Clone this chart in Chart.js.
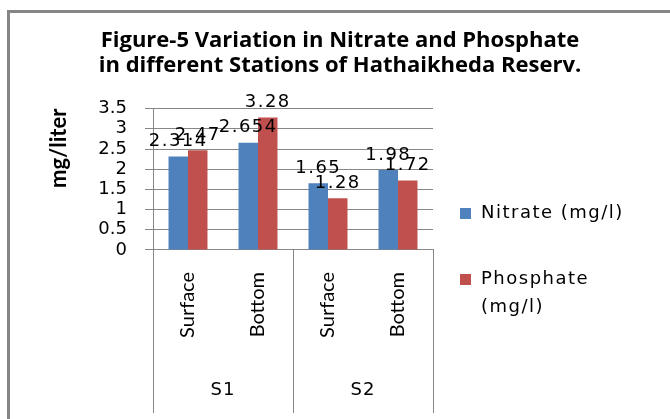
<!DOCTYPE html>
<html>
<head>
<meta charset="utf-8">
<title>Nitrate and Phosphate</title>
<script src="https://cdn.jsdelivr.net/npm/chart.js@4.4.1/dist/chart.umd.min.js"></script>
<style>
  html, body { margin: 0; padding: 0; background: #fff; }
  #wrap { width: 670px; height: 419px; }
</style>
</head>
<body>
<div id="wrap"><canvas id="chart" width="670" height="419"></canvas></div>
<script>
// chart data
const stations = ["S1", "S2"];
const depths = ["Surface", "Bottom", "Surface", "Bottom"];
const nitrate = [2.314, 2.654, 1.65, 1.98];
const phosphate = [2.47, 3.28, 1.28, 1.72];
const yTicks = [0, 0.5, 1, 1.5, 2, 2.5, 3, 3.5];
const seriesNames = ["Nitrate (mg/l)", "Phosphate (mg/l)"];
const titleLines = [
  "Figure-5 Variation in Nitrate and Phosphate",
  "in different Stations of Hathaikheda Reserv.",
];

const gridColor = "#868686";
const numberFont = "'DejaVu Sans', Verdana, sans-serif";
const textFont = "Lato, 'Open Sans', sans-serif";
const titleFont = "'Open Sans', Lato, sans-serif";

// grey frame round the chart
const frame = {
  id: "frame",
  beforeDraw(chart) {
    const ctx = chart.ctx;
    ctx.save();
    ctx.fillStyle = gridColor;
    ctx.fillRect(7, 10, 3, chart.height - 10);
    ctx.fillRect(7, 10, chart.width - 7, 3);
    ctx.restore();
  },
};

// value labels above the bars
const valueLabels = {
  id: "valueLabels",
  afterDatasetsDraw(chart) {
    const ctx = chart.ctx;
    ctx.save();
    ctx.font = "18px " + numberFont;
    ctx.letterSpacing = "1.5px";
    ctx.fillStyle = "#000";
    ctx.textAlign = "center";
    ctx.textBaseline = "bottom";
    chart.data.datasets.forEach((ds, i) => {
      chart.getDatasetMeta(i).data.forEach((bar, j) => {
        ctx.fillText(String(ds.data[j]), bar.x, bar.y - 6);
      });
    });
    ctx.restore();
  },
};

// station row under the depth labels, with its separator lines
const stationAxis = {
  id: "stationAxis",
  afterDraw(chart) {
    const ctx = chart.ctx;
    const x = chart.scales.x;
    const top = chart.chartArea.bottom;
    const step = x.getPixelForValue(1) - x.getPixelForValue(0);
    ctx.save();
    ctx.strokeStyle = gridColor;
    ctx.lineWidth = 1;
    ctx.font = "18px " + numberFont;
    ctx.letterSpacing = "1px";
    ctx.fillStyle = "#000";
    ctx.textAlign = "center";
    ctx.textBaseline = "middle";
    stations.forEach((name, k) => {
      const left = x.getPixelForValue(k * 2) - step / 2;
      const right = x.getPixelForValue(k * 2 + 1) + step / 2;
      [left, right].forEach((px) => {
        const lx = Math.round(px) + 0.5;
        ctx.beginPath();
        ctx.moveTo(lx, top);
        ctx.lineTo(lx, 413);
        ctx.stroke();
      });
      ctx.fillText(name, (left + right) / 2, 390);
    });
    ctx.restore();
  },
};

// legend on the right, long names wrap
const sideLegend = {
  id: "sideLegend",
  afterDraw(chart) {
    const ctx = chart.ctx;
    const x0 = chart.chartArea.right + 27;
    ctx.save();
    ctx.font = "18px " + numberFont;
    ctx.letterSpacing = "1.5px";
    ctx.textBaseline = "middle";
    let y = 213;
    chart.data.datasets.forEach((ds) => {
      ctx.fillStyle = ds.backgroundColor;
      ctx.fillRect(x0, y - 5, 11, 11);
      ctx.fillStyle = "#000";
      const words = ds.label.split(" ");
      const lines = [];
      let line = "";
      words.forEach((w) => {
        const test = line ? line + " " + w : w;
        if (line && ctx.measureText(test).width > 160) {
          lines.push(line);
          line = w;
        } else {
          line = test;
        }
      });
      lines.push(line);
      lines.forEach((t, j) => ctx.fillText(t, x0 + 21, y + j * 28));
      y += 66;
    });
    ctx.restore();
  },
};

new Chart(document.getElementById("chart"), {
  type: "bar",
  data: {
    labels: depths,
    datasets: [
      {
        label: seriesNames[0],
        data: nitrate,
        backgroundColor: "#4F81BD",
        categoryPercentage: 0.557,
        barPercentage: 1,
      },
      {
        label: seriesNames[1],
        data: phosphate,
        backgroundColor: "#C0504D",
        categoryPercentage: 0.557,
        barPercentage: 1,
      },
    ],
  },
  options: {
    responsive: false,
    animation: false,
    layout: { padding: { left: 10, right: 0, top: 14, bottom: 0 } },
    plugins: {
      legend: { display: false },
      tooltip: { enabled: false },
      title: {
        display: true,
        text: titleLines,
        color: "#000",
        font: { family: titleFont, size: 22, weight: "bold", lineHeight: 1.15 },
        padding: { top: 14, bottom: 30 },
      },
    },
    scales: {
      x: {
        grid: { display: false, drawTicks: false },
        border: { display: true, color: gridColor },
        ticks: {
          color: "#000",
          minRotation: 90,
          maxRotation: 90,
          padding: 22,
          font: { family: textFont, size: 20 },
        },
        afterFit(scale) {
          scale.height = 169;
        },
      },
      y: {
        min: 0,
        max: 3.5,
        afterBuildTicks(scale) {
          scale.ticks = yTicks.map((v) => ({ value: v }));
        },
        grid: { color: gridColor, tickLength: 8 },
        border: { display: true, color: gridColor },
        ticks: {
          color: "#000",
          padding: 18,
          autoSkip: false,
          font: { family: numberFont, size: 18 },
          callback: (v) => String(v),
        },
        title: {
          display: true,
          text: "mg/liter",
          align: "end",
          color: "#000",
          font: { family: textFont, size: 22, weight: "bold" },
          padding: { top: 36 },
        },
        afterFit(scale) {
          scale.width = 143;
        },
      },
      legendSpace: {
        position: "right",
        display: true,
        grid: { display: false, drawTicks: false },
        border: { display: false },
        ticks: { display: false },
        afterFit(scale) {
          scale.width = 237;
        },
      },
    },
  },
  plugins: [frame, valueLabels, stationAxis, sideLegend],
});
</script>
</body>
</html>
